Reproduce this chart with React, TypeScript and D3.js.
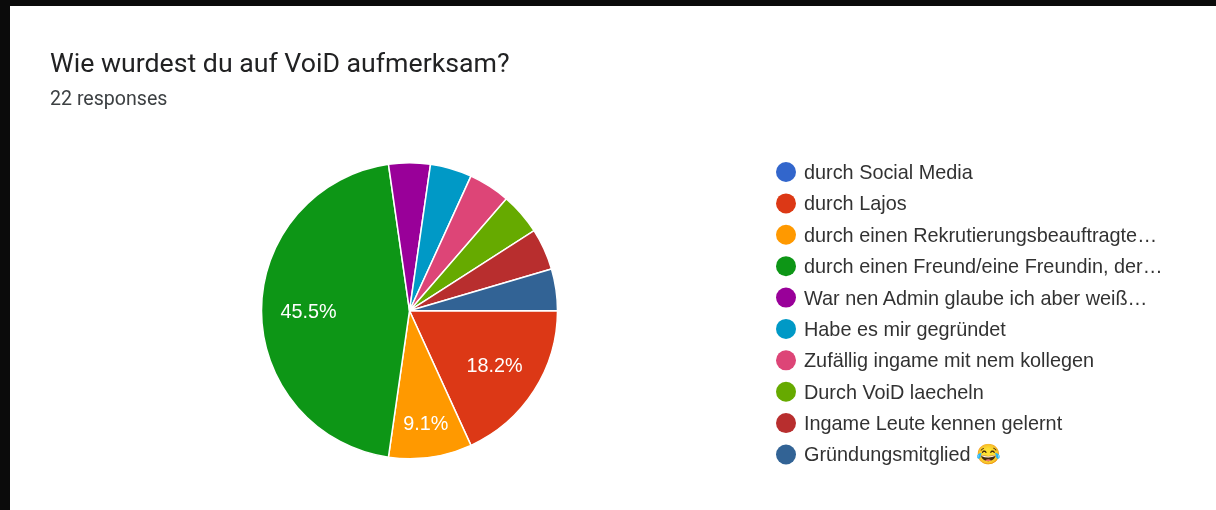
import React from 'react';
import * as d3 from 'd3';

const TITLE = 'Wie wurdest du auf VoiD aufmerksam?';
const SUBTITLE = '22 responses';

const CATEGORIES = [
  'durch Social Media',
  'durch Lajos',
  'durch einen Rekrutierungsbeauftragte…',
  'durch einen Freund/eine Freundin, der…',
  'War nen Admin glaube ich aber weiß…',
  'Habe es mir gegründet',
  'Zufällig ingame mit nem kollegen',
  'Durch VoiD laecheln',
  'Ingame Leute kennen gelernt',
  'Gründungsmitglied 😂',
];
const VALUES = [0, 4, 2, 10, 1, 1, 1, 1, 1, 1];
const COLORS = [
  '#3366cc', '#dc3912', '#ff9900', '#109618', '#990099',
  '#0099c6', '#dd4477', '#66aa00', '#b82e2e', '#316395',
];

const WIDTH = 1216;
const HEIGHT = 510;
const CX = 409.5;
const CY = 310.7;
const RADIUS = 148;

export default function App() {
  const total = d3.sum(VALUES);
  const pct = d3.format('.1%');

  // google charts starts the first slice at 3 o'clock
  const pie = d3.pie<number>()
    .value((d) => d)
    .sort(null)
    .startAngle(Math.PI / 2)
    .endAngle(Math.PI / 2 + 2 * Math.PI);
  const slices = pie(VALUES);

  const arc = d3.arc<d3.PieArcDatum<number>>().innerRadius(0).outerRadius(RADIUS);
  const labelArc = d3.arc<d3.PieArcDatum<number>>().innerRadius(101).outerRadius(101);
  // narrow slices get their label pushed further out
  const narrowLabelArc = d3.arc<d3.PieArcDatum<number>>().innerRadius(114).outerRadius(114);

  const legendY = d3.scalePoint<number>()
    .domain(d3.range(CATEGORIES.length))
    .range([172, 454.5]);

  return (
    <svg
      width={WIDTH}
      height={HEIGHT}
      viewBox={`0 0 ${WIDTH} ${HEIGHT}`}
      style={{ position: 'absolute', left: 0, top: 0, display: 'block' }}
    >
      <defs>
        <filter id="soft" x="0" y="0" width="100%" height="100%">
          <feGaussianBlur stdDeviation="0.4" />
        </filter>
      </defs>
      <rect width={WIDTH} height={HEIGHT} fill="#0b0b0b" />
      <rect x={10} y={6} width={WIDTH - 10} height={HEIGHT - 6} fill="#ffffff" />

      <g filter="url(#soft)">
        <text x={50} y={72} fontFamily="Roboto, sans-serif" fontSize={26.7} fill="#202124">{TITLE}</text>
        <text x={50} y={105} fontFamily="Roboto, sans-serif" fontSize={19.6} fill="#3c4043">{SUBTITLE}</text>

        <g transform={`translate(${CX},${CY})`}>
          {slices.map((d, i) => d.value > 0 && (
            <path key={i} d={arc(d) ?? ''} fill={COLORS[i]} stroke="#ffffff" strokeWidth={1.5} />
          ))}
          {slices.map((d, i) => {
            if (d.value < 2) return null;
            const [x, y] = (d.value / total < 0.1 ? narrowLabelArc : labelArc).centroid(d);
            return (
              <text
                key={i}
                x={x}
                y={y}
                dy="0.35em"
                textAnchor="middle"
                fontFamily="'Liberation Sans', Arial, sans-serif"
                fontSize={19.8}
                fill="#ffffff"
              >
                {pct(d.value / total)}
              </text>
            );
          })}
        </g>

        <g>
          {CATEGORIES.map((c, i) => (
            <g key={c} transform={`translate(0,${legendY(i)})`}>
              <circle cx={786} cy={0} r={10} fill={COLORS[i]} />
              <text
                x={804}
                y={0}
                dy="0.35em"
                fontFamily="'Liberation Sans', Arial, sans-serif"
                fontSize={19.85}
                fill="#333333"
              >
                {c}
              </text>
            </g>
          ))}
        </g>
      </g>
    </svg>
  );
}
